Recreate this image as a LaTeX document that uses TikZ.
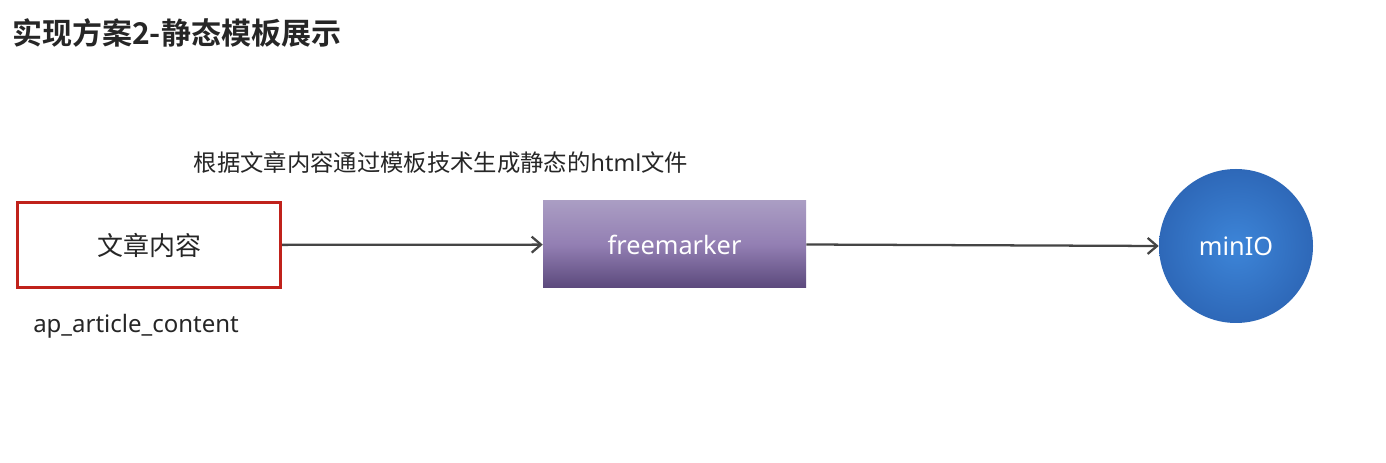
\documentclass[tikz,border=0pt]{standalone}
\usepackage{fontspec}
\setmainfont{Noto Sans}
\newfontfamily\cjk{Noto Sans CJK SC}
\newfontfamily\cjkbold{Noto Sans CJK SC Bold}
\usepackage{tikz}
\usetikzlibrary{arrows.meta,positioning,shadings}
\definecolor{boxred}{HTML}{C0221B}
\definecolor{linegray}{HTML}{454545}
\definecolor{textgray}{HTML}{262626}
\definecolor{fmtop}{HTML}{AA9DC3}
\definecolor{fmmid}{HTML}{937FB3}
\definecolor{fmbot}{HTML}{5B497C}
\definecolor{ioin}{HTML}{3D85D8}
\definecolor{ioout}{HTML}{2E68B8}
\begin{document}
\begin{tikzpicture}[x=0.75pt, y=-0.75pt]
\tikzstyle{every node} = [inner sep=0pt, text=textgray]
\tikzstyle{source} = [draw=boxred, line width=2.25pt, fill=white, minimum width=197.25pt, minimum height=63.75pt, font=\cjk\fontsize{19.5}{23}\selectfont]
\tikzstyle{engine} = [rectangle, top color=fmtop, bottom color=fmbot, middle color=fmmid, minimum width=197.25pt, minimum height=65.25pt, text=white, font=\fontsize{19}{23}\selectfont]
\tikzstyle{store} = [circle, inner color=ioin, outer color=ioout, minimum size=115.5pt, text=white, font=\fontsize{19}{23}\selectfont]
\tikzstyle{flow} = [line width=1.7pt, linegray, -{Straight Barb[length=7pt, width=12pt, line width=1.7pt]}]
\useasboundingbox (0,0) rectangle (1386,463);
\fill[white] (0,0) rectangle (1386,463);
\node[anchor=west, text=black!85, font=\cjkbold\fontsize{22.5}{27}\selectfont] (title) at (12,33) {实现方案2-静态模板展示};
\node[font=\fontsize{17.5}{21}\selectfont] (note) at (441,163) {{\cjk 根据文章内容通过模板技术生成静态的}html{\cjk 文件}};
\node[source] (content) at (149,245) {文章内容};
\node[anchor=west, font=\fontsize{18}{22}\selectfont] (table) at (33,326) {ap\_article\_content};
\node[engine] (fm) at (674.5,244.5) {freemarker};
\node[store] (minio) at (1236,246) {minIO};
\draw[flow] (content) -- (fm);
\draw[flow] (fm.east) -- (minio.west);
\end{tikzpicture}
\end{document}
